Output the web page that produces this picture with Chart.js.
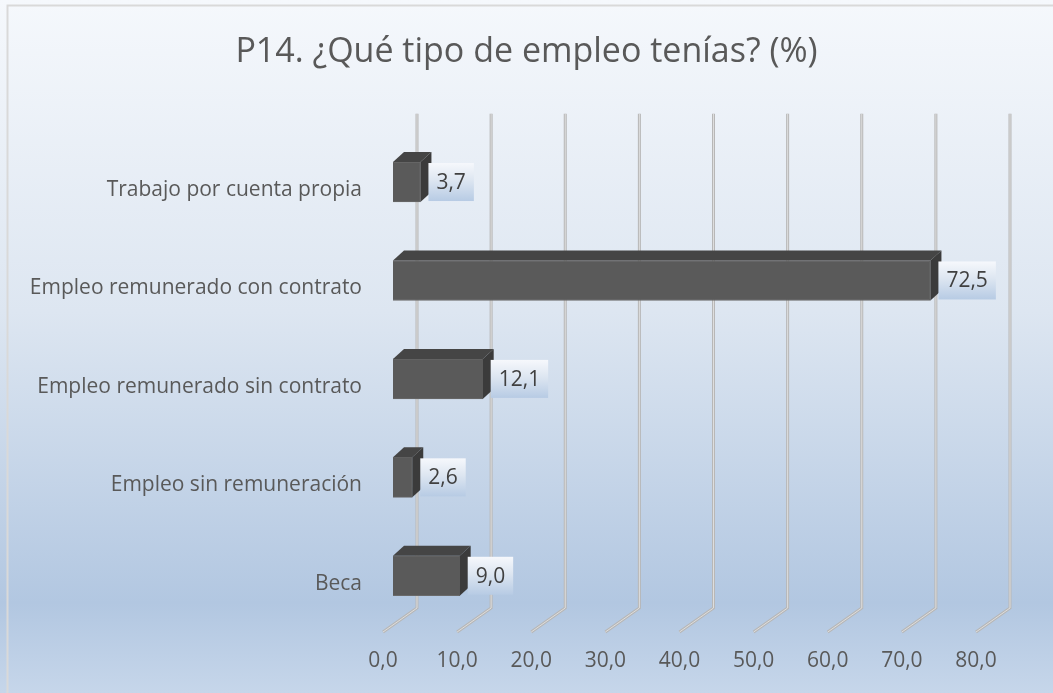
<!DOCTYPE html>
<html lang="es">
<head>
<meta charset="utf-8">
<title>P14</title>
<script src="https://cdn.jsdelivr.net/npm/chart.js@4.4.1/dist/chart.umd.min.js"></script>
<style>
    html, body { margin: 0; padding: 0; background: #ffffff; }
    #grafico { display: block; }
</style>
</head>
<body>
<canvas id="grafico" width="1053" height="693"></canvas>
<script>
// --- DATOS ---
const categorias = [
    'Trabajo por cuenta propia',
    'Empleo remunerado con contrato',
    'Empleo remunerado sin contrato',
    'Empleo sin remuneración',
    'Beca'
];
const valores = [3.7, 72.5, 12.1, 2.6, 9.0];
const ejeMin = 0;
const ejeMax = 80;
const ejePaso = 10;
const titulo = 'P14. ¿Qué tipo de empleo tenías? (%)';

// --- ESTILO ---
const FUENTE = '"Open Sans", "Noto Sans", sans-serif';
const COLOR_TEXTO = '#595959';

// desplazamientos de la perspectiva 3D
const FONDO_DX = 34, FONDO_DY = -24;   // plano trasero (rejilla)
const BARRA_DX = 10, BARRA_DY = -8;    // cara frontal de las barras
const PROF_DX = 11, PROF_DY = -10;     // profundidad de cada barra

const fmt = v => v.toFixed(1).replace('.', ',');

// fondo degradado y marco
const fondoPlugin = {
    id: 'fondo',
    beforeDraw(chart) {
        const { ctx, width, height } = chart;
        const g = ctx.createLinearGradient(0, 0, 0, height);
        g.addColorStop(0, '#f5f8fc');
        g.addColorStop(0.45, '#dde6f1');
        g.addColorStop(0.87, '#b2c7e1');
        g.addColorStop(1, '#c6d6ea');
        ctx.save();
        ctx.fillStyle = g;
        ctx.fillRect(0, 0, width, height);
        ctx.strokeStyle = '#d9d9d9';
        ctx.lineWidth = 2;
        ctx.strokeRect(7.5, 5.5, width + 10, height + 10);
        ctx.restore();
    }
};

// rejilla en perspectiva: línea trasera vertical + diagonal hacia el frente
const rejillaPlugin = {
    id: 'rejilla',
    beforeDatasetsDraw(chart) {
        const { ctx, chartArea } = chart;
        const x = chart.scales.x;
        const top = chartArea.top + FONDO_DY - 3;
        const bottom = chartArea.bottom - 1;
        ctx.save();
        ctx.lineJoin = 'miter';
        x.ticks.forEach(t => {
            const xf = x.getPixelForValue(t.value);
            const xb = xf + FONDO_DX;
            [[3, '#b7b7b7'], [1, '#dedede']].forEach(([w, c]) => {
                ctx.beginPath();
                ctx.moveTo(xb, top);
                ctx.lineTo(xb, bottom + FONDO_DY);
                ctx.lineTo(xf, bottom);
                ctx.lineWidth = w;
                ctx.strokeStyle = c;
                ctx.stroke();
            });
        });
        ctx.restore();
        // las barras se dibujan en un plano intermedio
        ctx.save();
        ctx.translate(BARRA_DX, BARRA_DY);
    },
    afterDatasetsDraw(chart) {
        const { ctx } = chart;
        const meta = chart.getDatasetMeta(0);
        meta.data.forEach((bar, i) => {
            const { x, y, base, height } = bar.getProps(['x', 'y', 'base', 'height'], true);
            const t = y - height / 2, b = y + height / 2;
            // cara superior
            ctx.beginPath();
            ctx.moveTo(base, t);
            ctx.lineTo(base + PROF_DX, t + PROF_DY);
            ctx.lineTo(x + PROF_DX, t + PROF_DY);
            ctx.lineTo(x, t);
            ctx.closePath();
            ctx.fillStyle = '#454545';
            ctx.fill();
            // cara lateral
            ctx.beginPath();
            ctx.moveTo(x, t);
            ctx.lineTo(x + PROF_DX, t + PROF_DY);
            ctx.lineTo(x + PROF_DX, b + PROF_DY);
            ctx.lineTo(x, b);
            ctx.closePath();
            ctx.fillStyle = '#3b3b3b';
            ctx.fill();

            // etiqueta de valor
            const txt = fmt(valores[i]);
            ctx.font = '21px ' + FUENTE;
            const w = ctx.measureText(txt).width + 16;
            const bx = x + 8, by = t + 1, bh = height - 2;
            const g = ctx.createLinearGradient(0, by, 0, by + bh);
            g.addColorStop(0, '#f6f8fc');
            g.addColorStop(0.45, '#dde6f1');
            g.addColorStop(1, '#b7cbe4');
            ctx.fillStyle = g;
            ctx.fillRect(bx, by, w, bh);
            ctx.fillStyle = '#404040';
            ctx.textAlign = 'center';
            ctx.textBaseline = 'middle';
            ctx.fillText(txt, bx + w / 2, by + bh / 2 + 1);
        });
        ctx.restore();
    }
};

new Chart(document.getElementById('grafico'), {
    type: 'bar',
    data: {
        labels: categorias,
        datasets: [{
            data: valores,
            backgroundColor: '#5a5a5a',
            borderColor: '#6a6a6a',
            borderWidth: 1,
            barThickness: 40
        }]
    },
    options: {
        indexAxis: 'y',
        responsive: false,
        devicePixelRatio: 1,
        animation: false,
        layout: { padding: { left: 0, right: 0, top: 0, bottom: 10 } },
        plugins: {
            legend: { display: false },
            tooltip: { enabled: false },
            title: {
                display: true,
                text: titulo,
                color: COLOR_TEXTO,
                font: { family: FUENTE, size: 34, weight: 'normal' },
                padding: { top: 32, bottom: 68 }
            }
        },
        scales: {
            x: {
                min: ejeMin,
                max: ejeMax,
                grid: { display: false, drawTicks: false },
                border: { display: false },
                ticks: {
                    stepSize: ejePaso,
                    color: COLOR_TEXTO,
                    font: { family: FUENTE, size: 21 },
                    padding: 15,
                    maxRotation: 0,
                    callback: v => fmt(v)
                },
                afterFit: s => { s.height = 50; }
            },
            y: {
                grid: { display: false, drawTicks: false },
                border: { display: false },
                ticks: {
                    color: COLOR_TEXTO,
                    font: { family: FUENTE, size: 21 },
                    padding: 21
                },
                afterFit: s => { s.width = 383; }
            },
            // eje vacío a la derecha: reserva el margen sin descentrar el título
            margen: {
                type: 'linear',
                position: 'right',
                grid: { display: false, drawTicks: false },
                border: { display: false },
                ticks: { display: false },
                afterFit: s => { s.width = 77; }
            }
        }
    },
    plugins: [fondoPlugin, rejillaPlugin]
});
</script>
</body>
</html>
